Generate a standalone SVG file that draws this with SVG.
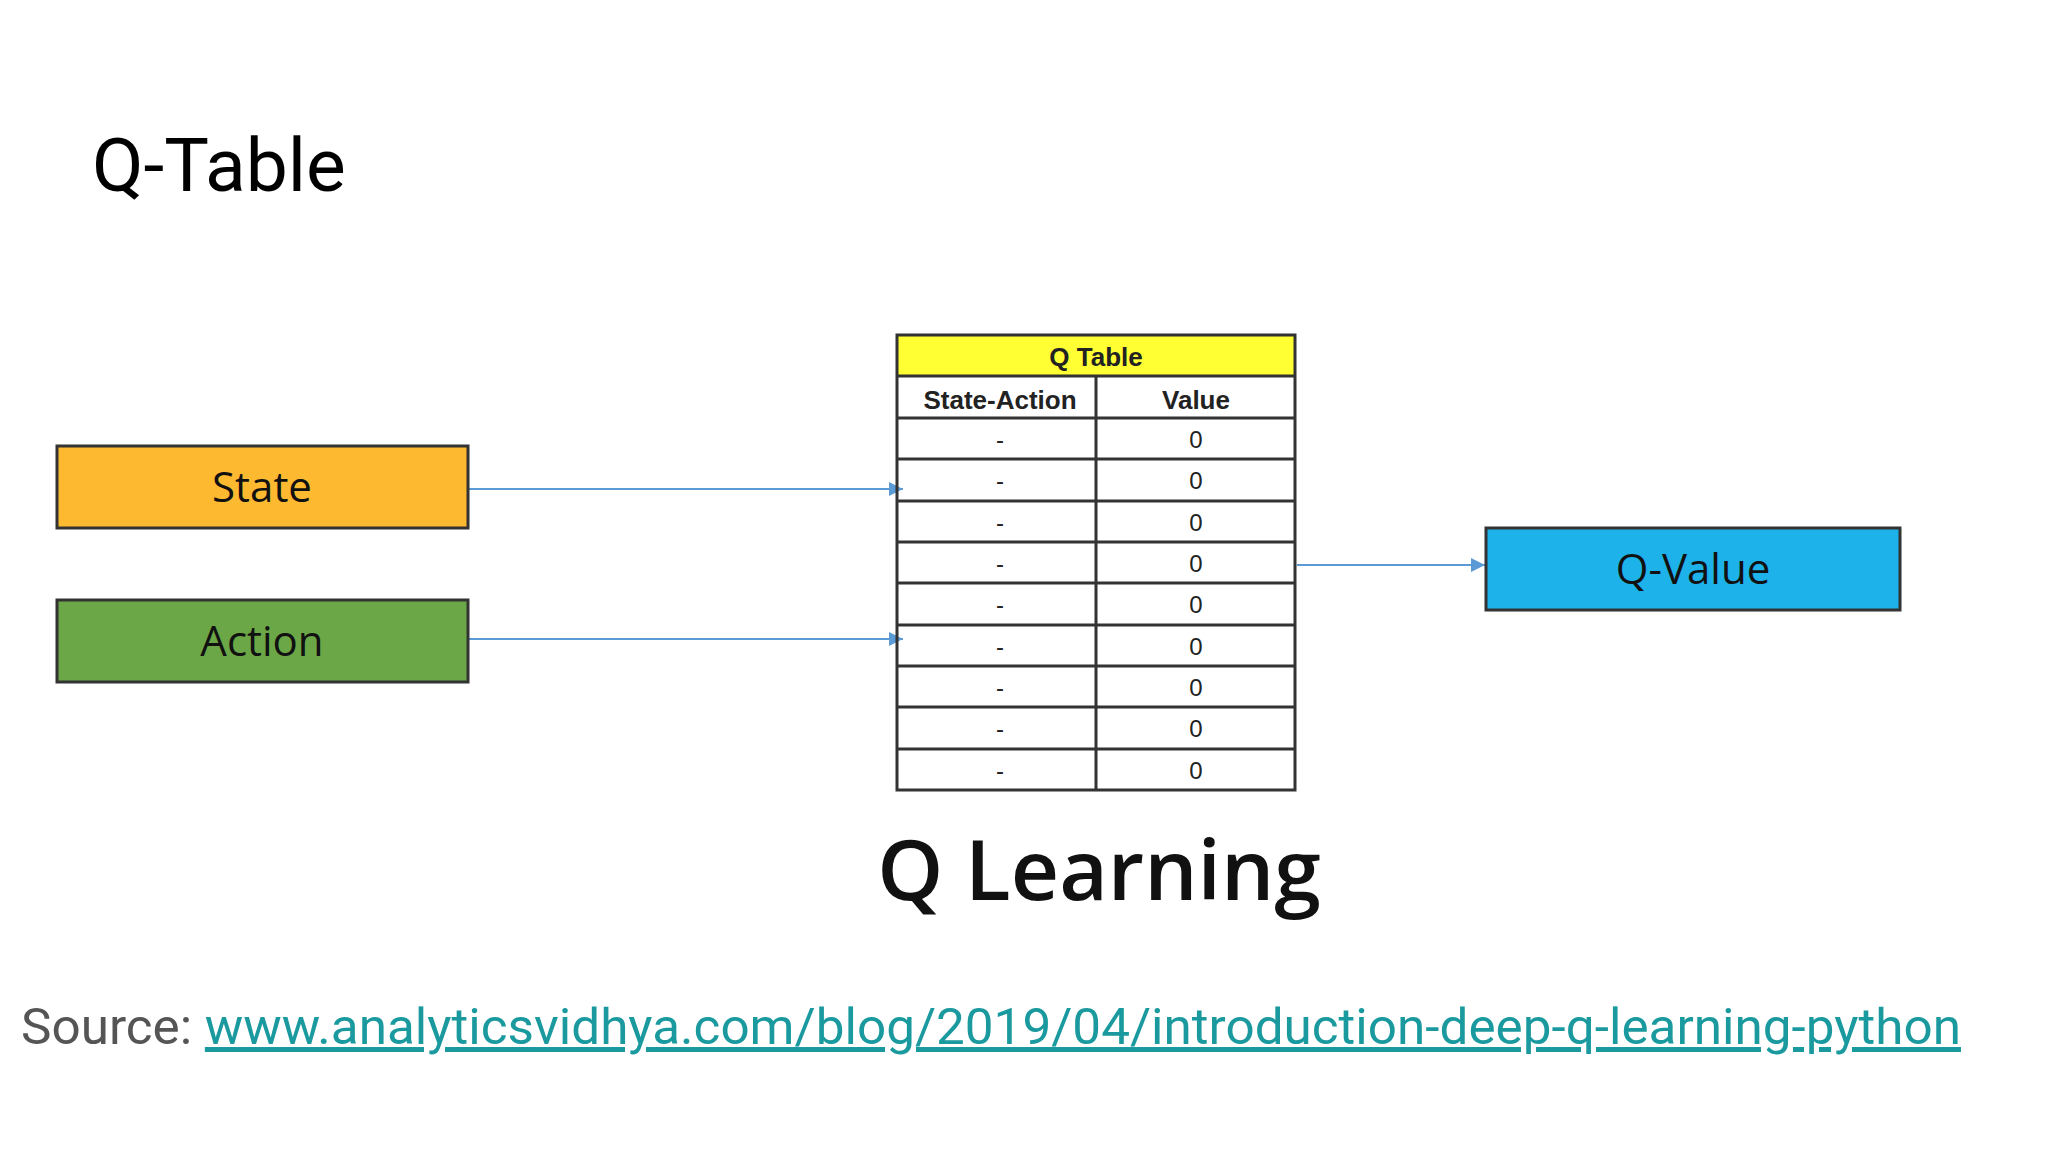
<svg xmlns="http://www.w3.org/2000/svg" width="2048" height="1152" viewBox="0 0 2048 1152">
<defs>
<style>
.box{stroke:#333;stroke-width:3}
.bl{font-family:"Open Sans","Liberation Sans",sans-serif;font-size:42px;font-weight:500;fill:#111;text-anchor:middle}
.cell{font-family:"Liberation Sans",Arial,sans-serif;font-size:24px;fill:#222;text-anchor:middle}
.hd{font-family:"Liberation Sans",Arial,sans-serif;font-size:26px;font-weight:bold;fill:#222;text-anchor:middle}
.ln{stroke:#333;stroke-width:3}
.conn{stroke:#5b9bd5;stroke-width:2;fill:none;marker-end:url(#ah)}
</style>
<marker id="ah" viewBox="0 0 10 10" refX="10" refY="5" markerWidth="14" markerHeight="14" orient="auto" markerUnits="userSpaceOnUse"><path d="M0,0L10,5L0,10z" fill="#5b9bd5"/></marker>
</defs>
<rect width="2048" height="1152" fill="#fff"/>
<text x="92" y="191" font-family="Roboto,sans-serif" font-size="75" fill="#000">Q-Table</text>
<g id="connectors">
<line class="conn" x1="468" y1="489" x2="903" y2="489"/>
<line class="conn" x1="468" y1="639" x2="903" y2="639"/>
<line class="conn" x1="1297" y1="565" x2="1485" y2="565"/>
</g>
<g id="state"><rect class="box" x="57" y="446" width="411" height="82" fill="#FDB92F"/><text class="bl" x="262" y="502">State</text></g>
<g id="action"><rect class="box" x="57" y="600" width="411" height="82" fill="#6BA747"/><text class="bl" x="262" y="656">Action</text></g>
<g id="qvalue"><rect class="box" x="1486" y="528" width="414" height="82" fill="#1EB2EA"/><text class="bl" x="1693" y="584">Q-Value</text></g>
<g id="qtable">
<rect x="897" y="335" width="398" height="41" fill="#FFFF33"/>
<rect x="897" y="335" width="398" height="455" fill="none" class="ln"/>
<line class="ln" x1="897" y1="376" x2="1295" y2="376"/>
<line class="ln" x1="1096" y1="376" x2="1096" y2="790"/>
<text class="hd" x="1096" y="366">Q Table</text>
<text class="hd" x="1000" y="409">State-Action</text>
<text class="hd" x="1196" y="409">Value</text>
<g>
<line class="ln" x1="897" y1="418" x2="1295" y2="418"/>
<line class="ln" x1="897" y1="459" x2="1295" y2="459"/>
<line class="ln" x1="897" y1="501" x2="1295" y2="501"/>
<line class="ln" x1="897" y1="542" x2="1295" y2="542"/>
<line class="ln" x1="897" y1="583" x2="1295" y2="583"/>
<line class="ln" x1="897" y1="625" x2="1295" y2="625"/>
<line class="ln" x1="897" y1="666" x2="1295" y2="666"/>
<line class="ln" x1="897" y1="707" x2="1295" y2="707"/>
<line class="ln" x1="897" y1="749" x2="1295" y2="749"/>
</g>
<g class="cell">
<text x="1000" y="448">-</text><text x="1196" y="448">0</text>
<text x="1000" y="489">-</text><text x="1196" y="489">0</text>
<text x="1000" y="531">-</text><text x="1196" y="531">0</text>
<text x="1000" y="572">-</text><text x="1196" y="572">0</text>
<text x="1000" y="613">-</text><text x="1196" y="613">0</text>
<text x="1000" y="655">-</text><text x="1196" y="655">0</text>
<text x="1000" y="696">-</text><text x="1196" y="696">0</text>
<text x="1000" y="737">-</text><text x="1196" y="737">0</text>
<text x="1000" y="779">-</text><text x="1196" y="779">0</text>
</g>
</g>
<text x="1099" y="900" font-family="Open Sans,sans-serif" font-size="84" font-weight="600" fill="#111" text-anchor="middle">Q Learning</text>
<text x="21" y="1044" font-family="Roboto,sans-serif" font-size="50" fill="#555" textLength="1940" lengthAdjust="spacingAndGlyphs">Source: <tspan fill="#1a9a9e" text-decoration="underline">www.analyticsvidhya.com/blog/2019/04/introduction-deep-q-learning-python</tspan></text>
</svg>
